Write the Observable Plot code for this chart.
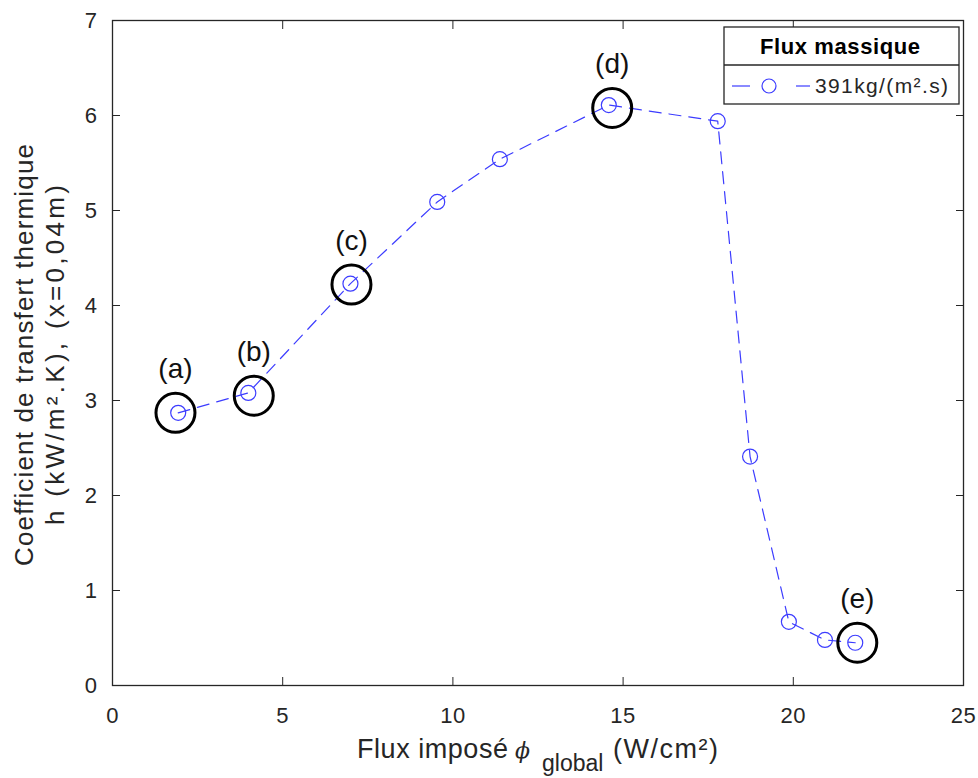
<!DOCTYPE html>
<html>
<head>
<meta charset="utf-8">
<script src="https://cdn.jsdelivr.net/npm/d3@7"></script>
<script src="https://cdn.jsdelivr.net/npm/@observablehq/plot@0.6"></script>
<style>
  html, body { margin: 0; padding: 0; background: white; }
  #chart { width: 978px; height: 778px; }
</style>
</head>
<body>
<div id="chart"></div>
<script>
// Data
const flux = [1.93, 3.99, 6.99, 9.54, 11.38, 14.58, 17.78, 18.73, 19.87, 20.93, 21.82];
const hCoef = [2.87, 3.08, 4.23, 5.09, 5.54, 6.11, 5.94, 2.41, 0.67, 0.48, 0.45];
const markLabels = ["(a)", "(b)", "(c)", "(d)", "(e)"];
const markX = [1.85, 4.15, 7.02, 14.68, 21.88];
const markY = [2.87, 3.05, 4.22, 6.08, 0.45];
const xTicks = [0, 5, 10, 15, 20, 25];
const yTicks = [0, 1, 2, 3, 4, 5, 6, 7];
const seriesName = "391kg/(m².s)";
const legendTitle = "Flux massique";
const yLabelLines = ["Coefficient de transfert thermique", "h (kW/m².K), (x=0,04m)"];
const xLabelParts = ["Flux imposé", "ϕ", "global", "(W/cm²)"];

const points = flux.map((x, i) => ({x, y: hCoef[i]}));
const marks = markX.map((x, i) => ({x, y: markY[i], label: markLabels[i]}));

const blue = "#3c3cff";
const ink = "#262626";
const font = "'Liberation Sans', Arial, sans-serif";

const chart = Plot.plot({
  width: 978,
  height: 778,
  marginLeft: 112,
  marginRight: 15,
  marginTop: 20,
  marginBottom: 93,
  x: {domain: [0, 25]},
  y: {domain: [0, 7]},
  style: {fontFamily: font, fontSize: "22px", color: ink, background: "white", overflow: "visible"},
  marks: [
    Plot.axisX(xTicks, {anchor: "bottom", tickSize: -8, tickPadding: 30, label: null, stroke: ink, fontSize: 22}),
    Plot.axisX(xTicks, {anchor: "top", tickSize: -8, tickFormat: () => "", label: null, stroke: ink}),
    Plot.axisY(yTicks, {anchor: "left", tickSize: -8, tickPadding: 23, tickFormat: d3.format("d"), label: null, stroke: ink, fontSize: 22}),
    Plot.axisY(yTicks, {anchor: "right", tickSize: -8, tickFormat: () => "", label: null, stroke: ink}),
    Plot.frame({stroke: ink, strokeWidth: 1.3}),
    Plot.line(points, {x: "x", y: "y", stroke: blue, strokeWidth: 1.2, strokeDasharray: "12,8"}),
    Plot.dot(points, {x: "x", y: "y", r: 7.5, stroke: blue, strokeWidth: 1.2, fill: "none"}),
    Plot.dot(marks, {x: "x", y: "y", r: 19.5, stroke: "black", strokeWidth: 3, fill: "none"}),
    Plot.text(marks, {x: "x", y: "y", text: "label", dy: -44, fontSize: 28, fill: "#111"})
  ]
});

document.getElementById("chart").appendChild(chart);

const svg = d3.select(chart);

// Y axis label (two lines, rotated)
const yl = svg.append("g")
  .attr("transform", "translate(0,355) rotate(-90)")
  .attr("font-family", font)
  .attr("font-size", 26)
  .attr("fill", ink)
  .attr("text-anchor", "middle");
yl.append("text").attr("x", 0).attr("y", 33)
  .attr("textLength", 422).attr("lengthAdjust", "spacing").text(yLabelLines[0]);
yl.append("text").attr("x", 0).attr("y", 64)
  .attr("textLength", 340).attr("lengthAdjust", "spacing").text(yLabelLines[1]);

// X axis label with subscript
const xl = svg.append("g").attr("font-family", font).attr("fill", ink).attr("text-anchor", "start");
xl.append("text").attr("x", 357).attr("y", 758).attr("font-size", 27)
  .attr("textLength", 151).attr("lengthAdjust", "spacing").text(xLabelParts[0]);
xl.append("text").attr("x", 515).attr("y", 758).attr("font-size", 22)
  .attr("font-style", "italic").attr("font-family", "'DejaVu Serif', serif").text(xLabelParts[1]);
xl.append("text").attr("x", 542).attr("y", 771).attr("font-size", 23).text(xLabelParts[2]);
xl.append("text").attr("x", 613).attr("y", 758).attr("font-size", 27)
  .attr("textLength", 105).attr("lengthAdjust", "spacing").text(xLabelParts[3]);

// Legend
const lg = svg.append("g").attr("font-family", font).attr("text-anchor", "start");
lg.append("rect").attr("x", 724).attr("y", 27).attr("width", 235).attr("height", 77)
  .attr("fill", "white").attr("stroke", ink).attr("stroke-width", 1.3);
lg.append("line").attr("x1", 724).attr("x2", 959).attr("y1", 65).attr("y2", 65)
  .attr("stroke", ink).attr("stroke-width", 1.3);
lg.append("text").attr("x", 760).attr("y", 54)
  .attr("font-size", 22).attr("font-weight", "bold").attr("fill", "black")
  .attr("textLength", 160).attr("lengthAdjust", "spacing").text(legendTitle);
lg.append("line").attr("x1", 732).attr("x2", 750).attr("y1", 86).attr("y2", 86)
  .attr("stroke", blue).attr("stroke-width", 1.2);
lg.append("line").attr("x1", 796).attr("x2", 810).attr("y1", 86).attr("y2", 86)
  .attr("stroke", blue).attr("stroke-width", 1.2);
lg.append("circle").attr("cx", 769).attr("cy", 86).attr("r", 7).attr("fill", "none")
  .attr("stroke", blue).attr("stroke-width", 1.2);
lg.append("text").attr("x", 815).attr("y", 93).attr("font-size", 21).attr("fill", ink)
  .attr("textLength", 133).attr("lengthAdjust", "spacing").text(seriesName);

// slight letter spacing on tick labels like the reference
svg.selectAll('g[aria-label="x-axis tick label"] text, g[aria-label="y-axis tick label"] text')
  .attr("letter-spacing", 0.5);
</script>
</body>
</html>
